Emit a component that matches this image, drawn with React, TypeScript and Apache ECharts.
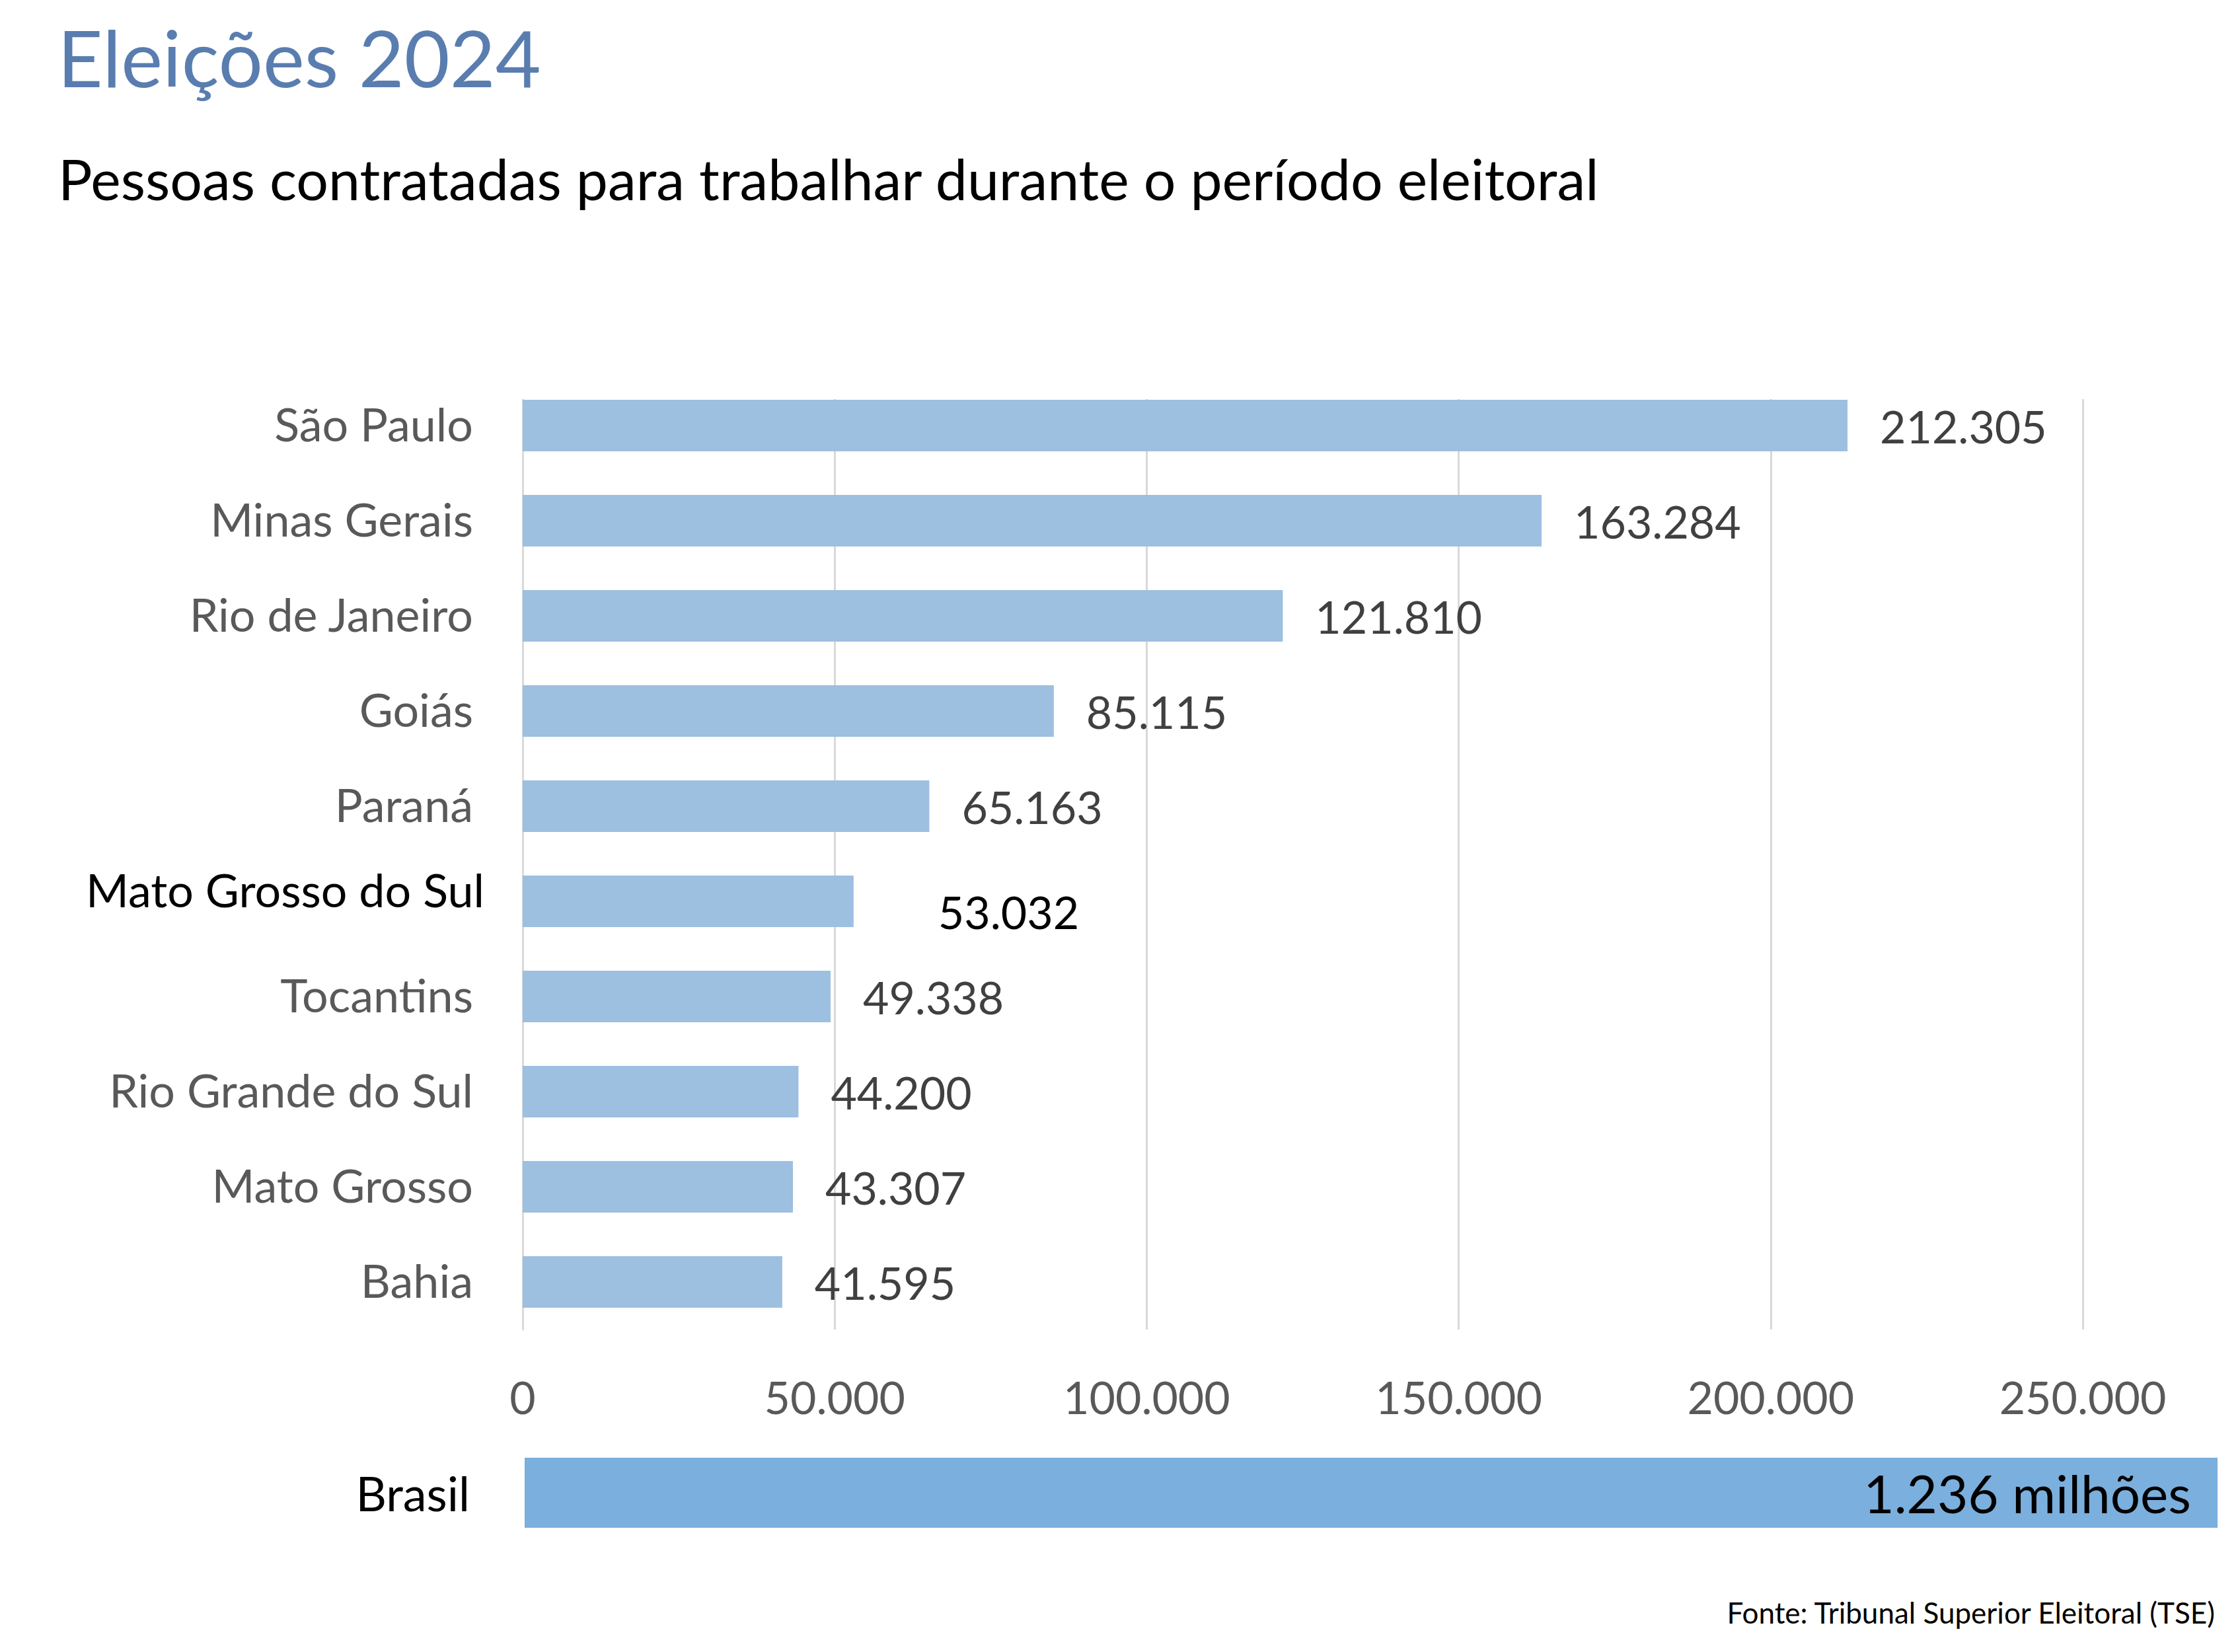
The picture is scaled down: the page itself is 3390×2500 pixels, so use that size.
import React, { useEffect, useRef } from "react";
import * as echarts from "echarts";

const titleText = "Eleições 2024";
const subtitleText = "Pessoas contratadas para trabalhar durante o período eleitoral";
const sourceText = "Fonte: Tribunal Superior Eleitoral (TSE)";

const states = [
  "São Paulo",
  "Minas Gerais",
  "Rio de Janeiro",
  "Goiás",
  "Paraná",
  "Mato Grosso do Sul",
  "Tocantins",
  "Rio Grande do Sul",
  "Mato Grosso",
  "Bahia",
];
const hired = [212305, 163284, 121810, 85115, 65163, 53032, 49338, 44200, 43307, 41595];
const highlighted = "Mato Grosso do Sul";

const xTicks = { min: 0, max: 250000, interval: 50000 };

const totalLabel = ["Brasil"];
const totalValue = [1236000];

const fmt = (v: number) => String(Math.round(v)).replace(/\B(?=(\d{3})+(?!\d))/g, ".");

const FONT = "Lato";

export default function App() {
  const ref = useRef<HTMLDivElement>(null);
  useEffect(() => {
    if (!ref.current) return;
    const chart = echarts.init(ref.current, null, { renderer: "svg" });
    const barData = hired.map((v, i) =>
      states[i] === highlighted
        ? {
            value: v,
            label: { color: "#000000", fontSize: 68, offset: [79, 15] },
          }
        : v
    );
    chart.setOption({
      animation: false,
      backgroundColor: "#ffffff",
      textStyle: { fontFamily: FONT },
      graphic: [
        {
          type: "rect",
          z: 10,
          shape: { x: 770, y: 555, width: 2450, height: 49 },
          style: { fill: "#ffffff" },
        },
        {
          type: "text",
          x: 87,
          y: 86,
          style: {
            text: titleText,
            fill: "#5a7db0",
            font: `119px ${FONT}`,
            verticalAlign: "middle",
          },
        },
        {
          type: "text",
          x: 88,
          y: 269,
          style: {
            text: subtitleText,
            fill: "#000000",
            font: `86px ${FONT}`,
            verticalAlign: "middle",
          },
        },
        {
          type: "text",
          x: 3352,
          y: 2440,
          style: {
            text: sourceText,
            fill: "#000000",
            font: `44px ${FONT}`,
            align: "right",
            verticalAlign: "middle",
          },
        },
      ],
      grid: [
        { left: 791, right: 238, top: 572, height: 1440, containLabel: false },
        { left: 794, right: 34, top: 2206, height: 106, containLabel: false },
      ],
      xAxis: [
        {
          gridIndex: 0,
          type: "value",
          min: xTicks.min,
          max: xTicks.max,
          interval: xTicks.interval,
          axisLine: { show: false },
          axisTick: { show: false },
          splitLine: { show: true, lineStyle: { color: "#d9d9d9", width: 3 } },
          axisLabel: {
            color: "#595959",
            fontSize: 68,
            fontFamily: FONT,
            margin: 67,
            formatter: (v: number) => fmt(v),
          },
        },
        {
          gridIndex: 1,
          type: "value",
          min: 0,
          max: totalValue[0],
          show: false,
        },
      ],
      yAxis: [
        {
          gridIndex: 0,
          type: "category",
          data: states,
          inverse: true,
          axisLine: { show: true, lineStyle: { color: "#d9d9d9", width: 3 } },
          axisTick: { show: false },
          axisLabel: {
            margin: 58,
            formatter: (v: string) => (v === highlighted ? `{hl|${v}}` : `{n|${v}}`),
            rich: {
              n: { color: "#595959", fontSize: 70, fontFamily: FONT, padding: [0, 17, 6, 0] },
              hl: { color: "#000000", fontSize: 70, fontFamily: FONT, padding: [0, 0, 36, 0] },
            },
          },
        },
        {
          gridIndex: 1,
          type: "category",
          data: totalLabel,
          axisLine: { show: false },
          axisTick: { show: false },
          axisLabel: { color: "#000000", fontSize: 72, fontFamily: FONT, margin: 83 },
        },
      ],
      series: [
        {
          type: "bar",
          xAxisIndex: 0,
          yAxisIndex: 0,
          data: barData,
          barWidth: 78,
          itemStyle: { color: "#9dbfe0" },
          label: {
            show: true,
            position: "right",
            distance: 49,
            color: "#404040",
            fontSize: 68,
            fontFamily: FONT,
            formatter: (p: any) => fmt(p.value),
          },
        },
        {
          type: "bar",
          xAxisIndex: 1,
          yAxisIndex: 1,
          data: totalValue,
          barWidth: 106,
          itemStyle: { color: "#7bafdd" },
          label: {
            show: true,
            position: "insideRight",
            distance: 40,
            color: "#000000",
            fontSize: 80,
            fontFamily: FONT,
            formatter: (p: any) => `${(p.value / 1e6).toFixed(3)} milhões`,
          },
        },
      ],
    });
    return () => chart.dispose();
  }, []);
  return (
    <div
      ref={ref}
      style={{ position: "absolute", left: 0, top: 0, width: "3390px", height: "2500px" }}
    />
  );
}
